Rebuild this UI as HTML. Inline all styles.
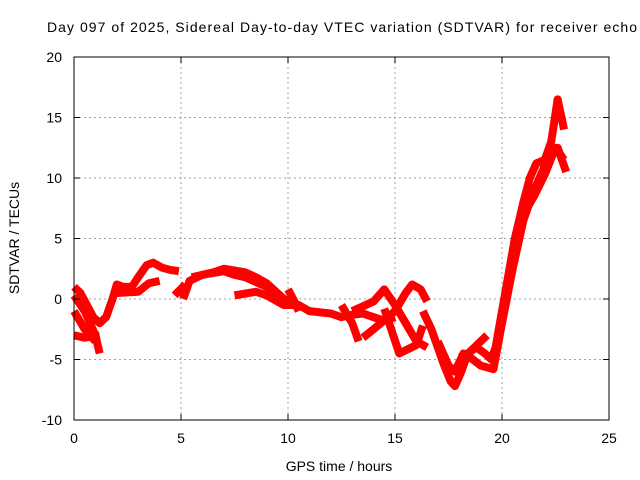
<!DOCTYPE html>
<html><head><meta charset="utf-8"><style>
body{margin:0;background:#fff;}
svg{display:block;font-family:"Liberation Sans",sans-serif;}
</style></head><body>
<svg id="chart" width="640" height="480">
<rect width="640" height="480" fill="#fff"/>
<text x="47" y="32" font-size="14" fill="#000" textLength="590" lengthAdjust="spacing">Day 097 of 2025, Sidereal Day-to-day VTEC variation (SDTVAR) for receiver echo</text>
<g id="grid"></g>
<g id="series"></g>
<rect x="74" y="57" width="535" height="363" fill="none" stroke="#000"/>
<g id="ticks"></g>
<text x="339" y="471" font-size="14" text-anchor="middle">GPS time / hours</text>
<text transform="translate(19,238) rotate(-90)" font-size="14" text-anchor="middle">SDTVAR / TECUs</text>
</svg>
<script>
const xTicks=[0,5,10,15,20,25];
const yTicks=[-10,-5,0,5,10,15,20];
const trackA_h=[0,0.3,0.6,0.9,1.2,1.5,1.8,2.0,2.3,2.7,3.0,3.4,3.7,4.1,4.5,4.9];
const trackA_v=[1.0,0.5,-0.5,-1.5,-2.0,-1.5,0,1.2,1.0,1.0,1.8,2.8,3.0,2.6,2.4,2.3];
const trackB_h=[0,0.5,1.0,1.2];
const trackB_v=[0.3,-1,-3,-4.5];
const trackC_h=[0,0.5,1.0];
const trackC_v=[-1,-2.5,-3.5];
const trackD_h=[0,0.5,1.2];
const trackD_v=[-3,-3.2,-3];
const trackE_h=[2.0,3.0,3.5,4.0];
const trackE_v=[0.5,0.6,1.3,1.5];
const trackF_h=[4.7,5.2];
const trackF_v=[0.3,1.2];
const trackG_h=[5.1,5.4,6,7,7.5,8,9,9.5,10,10.5,11,12,12.5,13,13.5,14,14.5,15];
const trackG_v=[0,1.5,2,2.3,2,1.8,1,0.3,-0.3,-0.5,-1,-1.2,-1.5,-1.3,-1.2,-1.5,-1.8,-1.5];
const trackH_h=[5.5,6.5,7,8,8.5,9,9.5,10];
const trackH_v=[1.8,2.2,2.5,2.2,1.8,1.3,0.5,-0.3];
const trackI_h=[7.5,8.5,9,9.8,10.5];
const trackI_v=[0.3,0.6,0.3,-0.5,-0.5];
const trackJ_h=[10,10.3,10.5];
const trackJ_v=[0.8,-0.2,-1];
const trackK_h=[12.5,13,13.3];
const trackK_v=[-0.5,-2,-3.5];
const trackL_h=[13,14,14.5,15,15.5,16,16.5];
const trackL_v=[-1,-0.2,0.8,-0.5,-2,-3.5,-4];
const trackM_h=[13.5,14,15,15.5,15.8,16.2,16.5];
const trackM_v=[-3.2,-2.5,-1,0.5,1.2,0.8,-0.2];
const trackN_h=[14.5,15.2,16,16.3];
const trackN_v=[-0.8,-4.5,-3.8,-2.2];
const trackP_h=[16.3,16.7,17,17.3,17.6,17.8,18.1,18.4,18.8,19.2,19.5,19.7,20,20.3,20.6,21,21.3,21.6,22,22.3,22.6,22.9];
const trackP_v=[-1,-2.5,-4,-5.5,-6.8,-7.2,-6,-4.5,-4,-4.5,-5,-4,-1,2,5,8,10,11.2,11.5,13,16.5,14];
const trackQ_h=[17,17.5,17.8,18.2,18.5,19,19.6,20,20.5,21,21.5,22,22.3,22.6,23];
const trackQ_v=[-3.5,-5.5,-6,-4.5,-4.8,-5.5,-5.8,-2,2.5,6.5,9,11,12,12.5,10.5];
const trackR_h=[20.2,20.6,21,21.5,22,22.5,22.9];
const trackR_v=[0,3.5,7,8.5,10.3,12.5,11.5];
const trackS_h=[18.0,18.3,19.3];
const trackS_v=[-4.8,-4.7,-3.0];
const tracks=[[trackA_h,trackA_v],[trackB_h,trackB_v],[trackC_h,trackC_v],[trackD_h,trackD_v],[trackE_h,trackE_v],[trackF_h,trackF_v],[trackG_h,trackG_v],[trackH_h,trackH_v],[trackI_h,trackI_v],[trackJ_h,trackJ_v],[trackK_h,trackK_v],[trackL_h,trackL_v],[trackM_h,trackM_v],[trackN_h,trackN_v],[trackP_h,trackP_v],[trackQ_h,trackQ_v],[trackR_h,trackR_v],[trackS_h,trackS_v]];
const NS="http://www.w3.org/2000/svg";
const X=h=>74+h*535/25;
const Y=v=>299-v*363/30;
function mk(tag,attrs,parent){const e=document.createElementNS(NS,tag);for(const k in attrs)e.setAttribute(k,attrs[k]);parent.appendChild(e);return e;}
const grid=document.getElementById('grid'),ticks=document.getElementById('ticks'),series=document.getElementById('series');
xTicks.forEach(t=>{
  const x=X(t);
  if(t>0&&t<25){const g=mk('line',{x1:x,x2:x,y1:57,y2:420,stroke:'#a0a0a0','stroke-dasharray':'2,3'},grid);
  
  }
  mk('line',{x1:x,x2:x,y1:420,y2:414,stroke:'#000'},ticks);
  mk('line',{x1:x,x2:x,y1:57,y2:63,stroke:'#000'},ticks);
  const l=mk('text',{x:x,y:443,'font-size':14,'text-anchor':'middle'},ticks);l.textContent=t;
  
  
});
yTicks.forEach(t=>{
  const y=Y(t);
  if(t>-10&&t<20){const g=mk('line',{x1:74,x2:609,y1:y,y2:y,stroke:'#a0a0a0','stroke-dasharray':'2,3'},grid);
  
  }
  mk('line',{x1:74,x2:80,y1:y,y2:y,stroke:'#000'},ticks);
  mk('line',{x1:603,x2:609,y1:y,y2:y,stroke:'#000'},ticks);
  const l=mk('text',{x:62,y:y+5,'font-size':14,'text-anchor':'end'},ticks);l.textContent=t;
  
  
});
tracks.forEach(([hs,vs])=>{
  const pts=hs.map((h,i)=>X(h)+','+Y(vs[i])).join(' ');
  const p=mk('polyline',{points:pts,fill:'none',stroke:'#ff0000','stroke-width':8,'stroke-linejoin':'round','stroke-linecap':'butt'},series);
  
  
});
</script>
</body></html>
